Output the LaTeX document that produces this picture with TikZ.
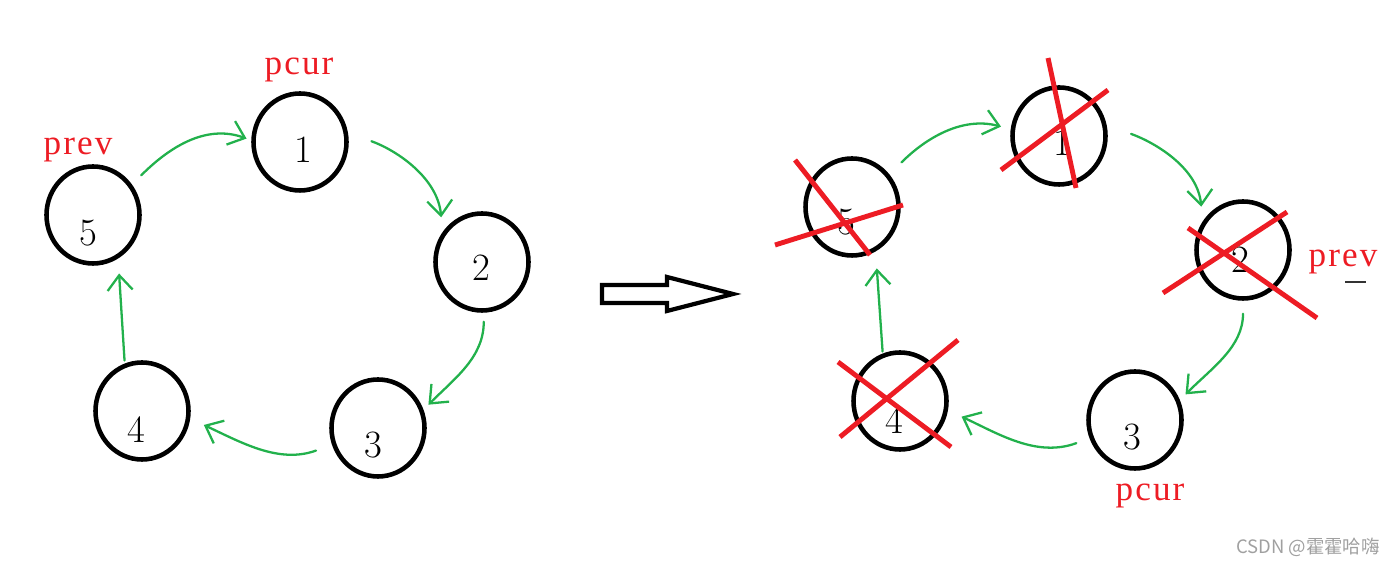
\documentclass[tikz,border=0pt]{standalone}
\usepackage{fontspec}
\newfontfamily\lblfont[LetterSpace=6]{Liberation Serif}
\newfontfamily\cjkfont{Noto Sans CJK SC}
\usepackage{tikz}
\usetikzlibrary{
arrows.meta,
positioning,
shapes.geometric,
calc
}
\definecolor{pgreen}{HTML}{22B14C}
\definecolor{pred}{HTML}{ED1C24}
\definecolor{wmgray}{HTML}{A0A0A0}

\begin{document}
\begin{tikzpicture}[
  ball/.style={draw, line width=2.6pt, ellipse, minimum width=1.86cm, minimum height=1.94cm, inner sep=0pt},
  num/.style={font=\fontsize{22}{26}\selectfont, inner sep=0pt},
  lbl/.style={font=\lblfont\fontsize{20}{24}\selectfont, text=pred, inner sep=0pt},
  link/.style={draw=pgreen, line width=1.3pt, line cap=round, -{Straight Barb[length=3mm,width=5mm]}},
  cross/.style={draw=pred, line width=2.8pt}
]
\useasboundingbox (0,0) rectangle (27.84,11.3);

% Before: ring of five nodes
\foreach \n/\x/\y/\dx/\dy in {1/6.00/8.46/0.06/-0.16, 5/1.86/7.00/-0.10/-0.36, 2/9.64/6.06/-0.02/-0.12, 3/7.56/2.74/-0.10/-0.34, 4/2.84/3.08/-0.12/-0.38} {
  \node[ball] (c\n) at (\x,\y) {};
  \node[num] (n\n) at ($(c\n)+(\dx,\dy)$) {\n};
}

\node[lbl] (pcurA) at (5.98,9.9) {pcur};
\node[lbl] (prevA) at (1.56,8.3) {prev};

\draw[link, shorten <=0.26cm, shorten >=0.1cm] (c5.38) to[out=45, in=160] (c1.178);
\draw[link, shorten <=0.5cm, shorten >=0.3cm] (c1.11) to[out=-20, in=95] (c2.143);
\draw[link, shorten <=0.18cm, shorten >=0.14cm] (c2.-88) to[out=-90, in=45] (c3.22);
\draw[link, shorten <=0.34cm, shorten >=0.3cm] (c3.200) to[out=-160, in=-25] (c4.-9);
\draw[link, shorten <=0.06cm, shorten >=0.3cm] (c4.110) -- (c5.-60);

% Hollow arrow
\draw[line width=2.4pt, line join=miter]
  (12.04,5.6) -- (13.34,5.6) -- (13.34,5.76) -- (14.66,5.42) -- (13.34,5.08) -- (13.34,5.24) -- (12.04,5.24) -- cycle;

% After: same ring, freed nodes crossed out
\foreach \n/\x/\y/\dx/\dy in {1/21.18/8.58/0.06/-0.14, 5/17.04/7.16/-0.12/-0.30, 2/24.86/6.30/-0.06/-0.20, 3/22.70/2.90/-0.06/-0.34, 4/18.00/3.28/-0.12/-0.40} {
  \node[ball] (r\n) at (\x,\y) {};
  \node[num] (m\n) at ($(r\n)+(\dx,\dy)$) {\n};
}

\node[lbl] (prevB) at (26.86,6.06) {prev};
\node[lbl] (pcurB) at (23.0,1.38) {pcur};
\draw[line width=0.9pt, black!80] (26.9,5.66) -- (27.32,5.66);

\draw[link, shorten <=0.34cm, shorten >=0.2cm] (r5.41) to[out=45, in=165] (r1.172);
\draw[link, shorten <=0.52cm, shorten >=0.3cm] (r1.13) to[out=-20, in=95] (r2.145);
\draw[link, shorten <=0.26cm, shorten >=0.16cm] (r2.-90) to[out=-90, in=45] (r3.24);
\draw[link, shorten <=0.28cm, shorten >=0.3cm] (r3.202) to[out=-160, in=-25] (r4.-11);
\draw[link, shorten <=0.04cm, shorten >=0.34cm] (r4.110) -- (r5.-62);

% Crosses
\draw[cross] ($(r1)+(-0.22,1.56)$) -- ($(r1)+(0.34,-1.04)$);
\draw[cross] ($(r1)+(-1.16,-0.68)$) -- ($(r1)+(0.98,0.92)$);
\draw[cross] ($(r5)+(-1.14,0.94)$) -- ($(r5)+(0.36,-0.96)$);
\draw[cross] ($(r5)+(-1.54,-0.76)$) -- ($(r5)+(1.02,0.04)$);
\draw[cross] ($(r2)+(-1.6,-0.86)$) -- ($(r2)+(0.88,0.76)$);
\draw[cross] ($(r2)+(-1.1,0.44)$) -- ($(r2)+(1.48,-1.36)$);
\draw[cross] ($(r4)+(-1.2,-0.72)$) -- ($(r4)+(1.16,1.22)$);
\draw[cross] ($(r4)+(-1.24,0.78)$) -- ($(r4)+(1.02,-0.92)$);

\node[font=\cjkfont\fontsize{10.5}{12}\selectfont, text=wmgray] (mark) at (26.16,0.36) {CSDN @霍霍哈嗨};

\end{tikzpicture}
\end{document}
